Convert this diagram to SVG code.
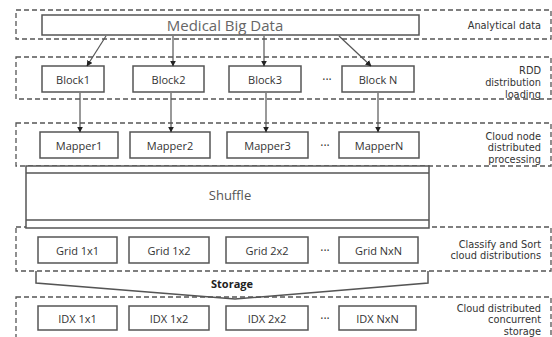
<svg xmlns="http://www.w3.org/2000/svg" width="552" height="337" viewBox="0 0 552 337">
<defs>
<marker id="arr" viewBox="0 0 10 10" refX="9" refY="5" markerWidth="6" markerHeight="6" markerUnits="userSpaceOnUse" orient="auto">
<path d="M0,0 L10,5 L0,10 z" fill="#222"/>
</marker>
</defs>
<style>
.zone{fill:none;stroke:#555;stroke-width:1.3;stroke-dasharray:5,3}
.box{fill:#fff;stroke:#555;stroke-width:1.5}
.lbl{font-family:"Open Sans","Noto Sans",sans-serif;font-size:11px;fill:#333;text-anchor:middle;dominant-baseline:central}
.side{font-family:"DejaVu Sans",sans-serif;font-size:9.8px;fill:#333;text-anchor:end}
.con{stroke:#555;stroke-width:1.2;fill:none;marker-end:url(#arr)}
.dots{font-family:"Open Sans","Noto Sans",sans-serif;font-size:12px;fill:#333;text-anchor:middle;dominant-baseline:central}
</style>
<rect width="552" height="337" fill="#fff"/>

<g id="zones">
<rect class="zone" x="16" y="10" width="535" height="29"/>
<rect class="zone" x="16" y="57" width="535" height="42"/>
<rect class="zone" x="16" y="123" width="535" height="43"/>
<rect class="zone" x="16" y="227" width="535" height="44"/>
<rect class="zone" x="16" y="297" width="535" height="50"/>
</g>

<g id="side-labels">
<text class="side" x="541" y="28.5">Analytical data</text>
<text class="side" x="541" y="74">RDD</text>
<text class="side" x="541" y="86">distribution</text>
<text class="side" x="541" y="97.5">loading</text>
<text class="side" x="541" y="139.5">Cloud node</text>
<text class="side" x="541" y="151">distributed</text>
<text class="side" x="541" y="162.5">processing</text>
<text class="side" x="541" y="247.5">Classify and Sort</text>
<text class="side" x="541" y="259">cloud distributions</text>
<text class="side" x="541" y="311.5">Cloud distributed</text>
<text class="side" x="541" y="323">concurrent</text>
<text class="side" x="541" y="334.5">storage</text>
</g>

<g id="medical-big-data">
<rect class="box" x="42" y="15" width="377" height="20"/>
<text class="lbl" x="225" y="25" style="font-size:15px;fill:#666">Medical Big Data</text>
</g>

<g id="block1"><rect class="box" x="42" y="66" width="62" height="26"/><text class="lbl" x="73" y="79">Block1</text></g>
<g id="block2"><rect class="box" x="133" y="66" width="71" height="26"/><text class="lbl" x="168.5" y="79">Block2</text></g>
<g id="block3"><rect class="box" x="229" y="66" width="72" height="26"/><text class="lbl" x="265" y="79">Block3</text></g>
<g id="blockN"><rect class="box" x="342" y="66" width="72" height="26"/><text class="lbl" x="378" y="79">Block N</text></g>
<text class="dots" x="327" y="79">···</text>

<g id="mapper1"><rect class="box" x="40" y="132" width="78" height="26"/><text class="lbl" x="79" y="145">Mapper1</text></g>
<g id="mapper2"><rect class="box" x="130" y="132" width="80" height="26"/><text class="lbl" x="170" y="145">Mapper2</text></g>
<g id="mapper3"><rect class="box" x="227" y="132" width="81" height="26"/><text class="lbl" x="267.5" y="145">Mapper3</text></g>
<g id="mapperN"><rect class="box" x="339" y="132" width="80" height="26"/><text class="lbl" x="379" y="145">MapperN</text></g>
<text class="dots" x="325" y="145">···</text>

<g id="shuffle">
<rect class="box" x="26" y="166" width="403" height="62"/>
<line x1="26" y1="173" x2="429" y2="173" stroke="#555" stroke-width="1.3"/>
<line x1="26" y1="220" x2="429" y2="220" stroke="#555" stroke-width="1.3"/>
<text class="lbl" x="230" y="195" style="font-size:13px;fill:#555">Shuffle</text>
</g>

<g id="grid1x1"><rect class="box" x="38" y="237" width="79" height="26"/><text class="lbl" x="77.5" y="250">Grid 1x1</text></g>
<g id="grid1x2"><rect class="box" x="129" y="237" width="80" height="26"/><text class="lbl" x="169" y="250">Grid 1x2</text></g>
<g id="grid2x2"><rect class="box" x="226" y="237" width="82" height="26"/><text class="lbl" x="267" y="250">Grid 2x2</text></g>
<g id="gridNxN"><rect class="box" x="339" y="237" width="79" height="26"/><text class="lbl" x="378.5" y="250">Grid NxN</text></g>
<text class="dots" x="325" y="250">···</text>

<g id="storage">
<polyline points="36,271 36,283 235,299 428,283 428,271" fill="none" stroke="#555" stroke-width="1.5"/>
<text class="lbl" x="232" y="283" style="font-weight:bold;fill:#222">Storage</text>
</g>

<g id="idx1x1"><rect class="box" x="38" y="306" width="79" height="24"/><text class="lbl" x="77.5" y="318">IDX 1x1</text></g>
<g id="idx1x2"><rect class="box" x="129" y="306" width="80" height="24"/><text class="lbl" x="169" y="318">IDX 1x2</text></g>
<g id="idx2x2"><rect class="box" x="226" y="306" width="82" height="24"/><text class="lbl" x="267" y="318">IDX 2x2</text></g>
<g id="idxNxN"><rect class="box" x="339" y="306" width="77" height="24"/><text class="lbl" x="377.5" y="318">IDX NxN</text></g>
<text class="dots" x="325" y="318">···</text>

<g id="connectors">
<line class="con" x1="106" y1="36" x2="87" y2="66"/>
<line class="con" x1="173" y1="36" x2="173" y2="66"/>
<line class="con" x1="264" y1="36" x2="264" y2="66"/>
<line class="con" x1="339" y1="36" x2="371" y2="66"/>
<line class="con" x1="80" y1="93" x2="80" y2="132"/>
<line class="con" x1="171" y1="93" x2="171" y2="132"/>
<line class="con" x1="266" y1="93" x2="266" y2="132"/>
<line class="con" x1="378" y1="93" x2="378" y2="132"/>
</g>
</svg>
